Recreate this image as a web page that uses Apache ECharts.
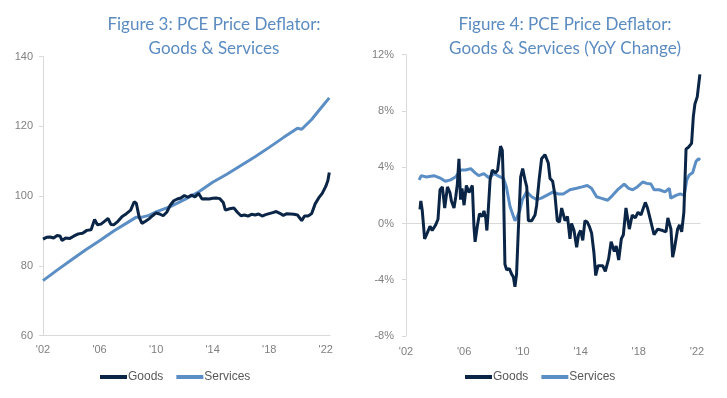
<!DOCTYPE html>
<html>
<head>
<meta charset="utf-8">
<script src="https://cdn.jsdelivr.net/npm/echarts@6/dist/echarts.min.js"></script>
<style>
html,body{margin:0;padding:0;background:#fff;}
#c{width:727px;height:398px;}
</style>
</head>
<body>
<div id="c"></div>
<script>
// ---- Figure 3: PCE price deflator level (index) ----
const levelServicesDates = [2002.0,2003.0,2004.0,2005.0,2006.0,2007.0,2008.0,2008.6,2009.0,2009.5,2010.0,2011.0,2012.0,2013.0,2014.0,2015.0,2016.0,2017.0,2018.0,2019.0,2020.0,2020.3,2021.0,2021.5,2022.25];
const levelServices = [75.8,78.8,81.7,84.6,87.2,90.0,92.5,94.0,94.0,94.5,95.5,97.0,99.0,101.2,104.0,106.3,108.8,111.3,114.0,116.8,119.5,119.2,122.0,124.5,128.2];

const levelGoodsDates = [2002.0,2002.25,2002.5,2002.75,2003.0,2003.2,2003.35,2003.6,2003.9,2004.2,2004.5,2004.8,2005.1,2005.4,2005.65,2005.85,2006.1,2006.35,2006.6,2006.8,2007.0,2007.3,2007.6,2007.9,2008.2,2008.45,2008.6,2008.8,2009.0,2009.25,2009.5,2009.75,2010.0,2010.25,2010.5,2010.75,2011.0,2011.25,2011.5,2011.75,2012.0,2012.25,2012.5,2012.75,2013.0,2013.25,2013.5,2013.75,2014.0,2014.25,2014.5,2014.75,2014.9,2015.2,2015.5,2015.75,2016.0,2016.25,2016.5,2016.75,2017.0,2017.25,2017.5,2017.75,2018.0,2018.25,2018.5,2018.75,2019.0,2019.25,2019.5,2019.75,2020.0,2020.3,2020.5,2020.75,2021.0,2021.25,2021.5,2021.75,2022.0,2022.15,2022.25];
const levelGoods = [87.7,88.2,88.3,88.0,88.7,88.6,87.3,88.0,87.9,88.6,89.2,89.4,90.2,90.4,93.3,91.8,92.0,92.8,93.6,91.9,91.8,92.8,94.2,95.0,96.0,98.4,98.0,94.0,92.2,92.8,93.5,94.4,95.2,94.9,94.4,95.4,97.4,98.7,99.2,99.5,100.2,99.7,100.3,99.8,100.8,99.2,99.3,99.2,99.4,99.5,99.3,98.2,96.0,96.4,96.6,95.4,94.4,94.6,94.3,94.8,94.6,94.9,94.3,94.7,95.0,95.3,95.6,95.1,94.5,95.0,94.9,94.8,94.6,93.0,94.3,94.3,95.0,97.8,99.5,100.8,102.8,104.5,106.8];

const levelTicks = [60,80,100,120,140];

// ---- Figure 4: YoY change (%) ----
const yoyGoodsDates = [2002.96,2003.02,2003.12,2003.28,2003.45,2003.65,2003.8,2004.04,2004.2,2004.34,2004.5,2004.66,2004.85,2005.02,2005.12,2005.3,2005.42,2005.53,2005.64,2005.75,2005.85,2005.99,2006.15,2006.33,2006.56,2006.67,2006.75,2006.9,2007.05,2007.24,2007.36,2007.48,2007.56,2007.64,2007.78,2007.93,2008.16,2008.3,2008.5,2008.62,2008.7,2008.8,2008.92,2009.1,2009.26,2009.38,2009.49,2009.6,2009.72,2009.88,2010.02,2010.18,2010.3,2010.41,2010.64,2010.87,2010.98,2011.16,2011.32,2011.55,2011.78,2011.9,2012.08,2012.24,2012.4,2012.55,2012.7,2012.93,2013.1,2013.27,2013.38,2013.55,2013.73,2013.86,2014.0,2014.15,2014.3,2014.46,2014.6,2014.76,2014.92,2015.04,2015.2,2015.35,2015.52,2015.7,2015.93,2016.1,2016.32,2016.45,2016.62,2016.8,2016.94,2017.12,2017.35,2017.55,2017.76,2017.95,2018.15,2018.45,2018.6,2018.84,2019.05,2019.3,2019.64,2019.87,2020.0,2020.21,2020.33,2020.45,2020.67,2020.8,2020.95,2021.1,2021.25,2021.4,2021.63,2021.75,2021.86,2022.02,2022.2];
const yoyGoods = [1.0,1.6,0.9,-1.1,-0.7,-0.2,-0.5,-0.1,0.3,2.4,2.6,1.1,2.6,2.2,1.6,1.1,1.9,2.8,4.6,1.7,2.5,1.3,2.7,2.2,2.7,-0.2,-1.3,-0.2,0.7,0.5,0.9,0.4,-0.5,0.7,3.1,3.8,3.6,3.8,5.5,5.2,2.6,-2.9,-3.3,-3.2,-3.6,-3.8,-4.5,-3.6,-0.5,3.3,3.9,3.1,2.6,0.2,0.2,0.6,1.3,3.2,4.6,4.9,4.3,3.2,3.0,2.0,0.2,0.1,1.1,0.2,0.5,-1.1,0.0,-0.5,-1.7,-0.8,-0.5,-1.2,0.2,0.1,-0.2,-0.7,-2.1,-3.7,-3.0,-3.0,-3.0,-3.4,-2.5,-1.3,-2.0,-1.6,-2.6,-1.1,-0.8,1.1,-0.4,0.6,0.4,0.8,0.6,1.5,1.1,0.1,-0.8,-0.4,-0.5,-0.6,0.4,-0.4,-2.4,-1.8,-0.4,-0.1,-0.6,0.8,5.3,5.4,5.7,7.6,8.5,9.0,10.6];

const yoyServicesDates = [2002.9,2003.05,2003.4,2003.92,2004.4,2004.7,2005.07,2005.4,2005.76,2006.1,2006.45,2006.75,2007.0,2007.35,2007.7,2008.05,2008.4,2008.7,2008.9,2009.15,2009.49,2009.6,2009.83,2010.0,2010.3,2010.64,2010.98,2011.3,2011.67,2012.12,2012.45,2012.81,2013.27,2013.73,2014.1,2014.46,2014.75,2015.1,2015.4,2015.86,2016.2,2016.55,2017.0,2017.3,2017.58,2017.9,2018.27,2018.55,2018.84,2019.05,2019.41,2019.8,2020.1,2020.2,2020.56,2020.85,2021.13,2021.3,2021.47,2021.7,2021.93,2022.1,2022.22];
const yoyServices = [3.1,3.4,3.3,3.4,3.2,3.0,3.1,3.3,3.8,3.8,3.9,3.6,3.4,3.55,3.25,3.55,3.35,3.2,2.6,1.2,0.2,0.35,0.95,1.7,2.25,1.9,1.7,1.8,2.0,2.25,2.1,2.1,2.4,2.5,2.6,2.7,2.5,1.9,1.8,1.65,2.0,2.4,2.8,2.5,2.4,2.6,2.95,2.85,2.8,2.4,2.4,2.25,2.5,1.8,2.0,2.1,2.0,3.1,3.45,3.6,4.4,4.6,4.5];

const yoyTicks = [-8,-4,0,4,8,12];
const yearLabels = ["'02","'06","'10","'14","'18","'22"];

const titleLeft = ['Figure 3: PCE Price Deflator:', 'Goods & Services'];
const titleRight = ['Figure 4: PCE Price Deflator:', 'Goods & Services (YoY Change)'];

const BASE = 2002;
const pairs = (d, v) => d.map((x, i) => [x - BASE, v[i]]);

const GOODS = '#0b2547';
const SERV = '#5b8ec4';
const TICK = '#7f7f7f';
const AXIS = '#d9d9d9';
const TITLE = '#5b8bc0';
const tickFont = { color: TICK, fontSize: 11, fontFamily: 'Liberation Sans, Arial, sans-serif' };

function xLabel(v) {
  if (Math.abs(v % 4) < 1e-9) { const i = Math.round(v / 4); return yearLabels[i] || ''; }
  return '';
}

const legendBase = {
  top: 366, itemWidth: 27, itemHeight: 4, itemGap: 13, icon: 'rect',
  data: ['Goods', 'Services'],
  textStyle: { color: '#595959', fontSize: 12, fontFamily: 'Liberation Sans, Arial, sans-serif', padding: [0,0,0,-4] }
};

const chart = echarts.init(document.getElementById('c'), null, { renderer: 'canvas' });
chart.setOption({
  animation: false,
  backgroundColor: '#fff',
  title: [
    { text: titleLeft.join('\n'), left: 209, top: 8, textAlign: 'center',
      textStyle: { color: TITLE, fontSize: 17, fontWeight: 'normal', fontFamily: 'Lato, sans-serif', lineHeight: 24 } },
    { text: titleRight.join('\n'), left: 560, top: 8, textAlign: 'center',
      textStyle: { color: TITLE, fontSize: 17, fontWeight: 'normal', fontFamily: 'Lato, sans-serif', lineHeight: 24 } }
  ],
  legend: [
    Object.assign({ left: 95 }, legendBase),
    Object.assign({ left: 460 }, legendBase)
  ],
  grid: [
    { left: 43, top: 56.7, width: 287, height: 279, containLabel: false },
    { left: 406, top: 54.7, width: 294.6, height: 281.3, containLabel: false }
  ],
  xAxis: [
    { type: 'value', gridIndex: 0, min: 0, max: 20.3, interval: 4,
      axisLine: { show: true, lineStyle: { color: AXIS } }, axisTick: { show: false },
      splitLine: { show: false }, axisLabel: Object.assign({ formatter: xLabel, margin: 9, showMaxLabel: false }, tickFont) },
    { type: 'value', gridIndex: 1, min: 0, max: 20.25, interval: 4,
      axisLine: { show: false }, axisTick: { show: false },
      splitLine: { show: false }, axisLabel: Object.assign({ formatter: xLabel, margin: 10, showMaxLabel: false }, tickFont) }
  ],
  yAxis: [
    { type: 'value', gridIndex: 0, min: levelTicks[0], max: levelTicks[levelTicks.length-1], interval: 20,
      axisLine: { show: true, lineStyle: { color: AXIS } }, axisTick: { show: true, length: 4, lineStyle: { color: AXIS } },
      splitLine: { show: false }, axisLabel: Object.assign({ margin: 10 }, tickFont) },
    { type: 'value', gridIndex: 1, min: yoyTicks[0], max: yoyTicks[yoyTicks.length-1], interval: 4,
      axisLine: { show: true, lineStyle: { color: AXIS } }, axisTick: { show: true, length: 4, lineStyle: { color: AXIS } },
      splitLine: { show: false }, axisLabel: Object.assign({ margin: 12, formatter: '{value}%' }, tickFont) }
  ],
  series: [
    { name: 'Goods', type: 'line', xAxisIndex: 0, yAxisIndex: 0, data: pairs(levelGoodsDates, levelGoods),
      showSymbol: false, symbol: 'none', lineStyle: { color: GOODS, width: 3 }, itemStyle: { color: GOODS }, z: 3 },
    { name: 'Services', type: 'line', xAxisIndex: 0, yAxisIndex: 0, data: pairs(levelServicesDates, levelServices),
      showSymbol: false, symbol: 'none', lineStyle: { color: SERV, width: 3 }, itemStyle: { color: SERV }, z: 2 },
    { name: 'Services', type: 'line', xAxisIndex: 1, yAxisIndex: 1, data: pairs(yoyServicesDates, yoyServices),
      showSymbol: false, symbol: 'none', lineStyle: { color: SERV, width: 3 }, itemStyle: { color: SERV }, z: 3,
      markLine: { silent: true, symbol: 'none', label: { show: false }, lineStyle: { color: AXIS, width: 1, type: 'solid' },
        data: [{ yAxis: 0 }], z: 1 } },
    { name: 'Goods', type: 'line', xAxisIndex: 1, yAxisIndex: 1, data: pairs(yoyGoodsDates, yoyGoods),
      showSymbol: false, symbol: 'none', lineStyle: { color: GOODS, width: 3 }, itemStyle: { color: GOODS }, z: 4 }
  ]
});
</script>
</body>
</html>
